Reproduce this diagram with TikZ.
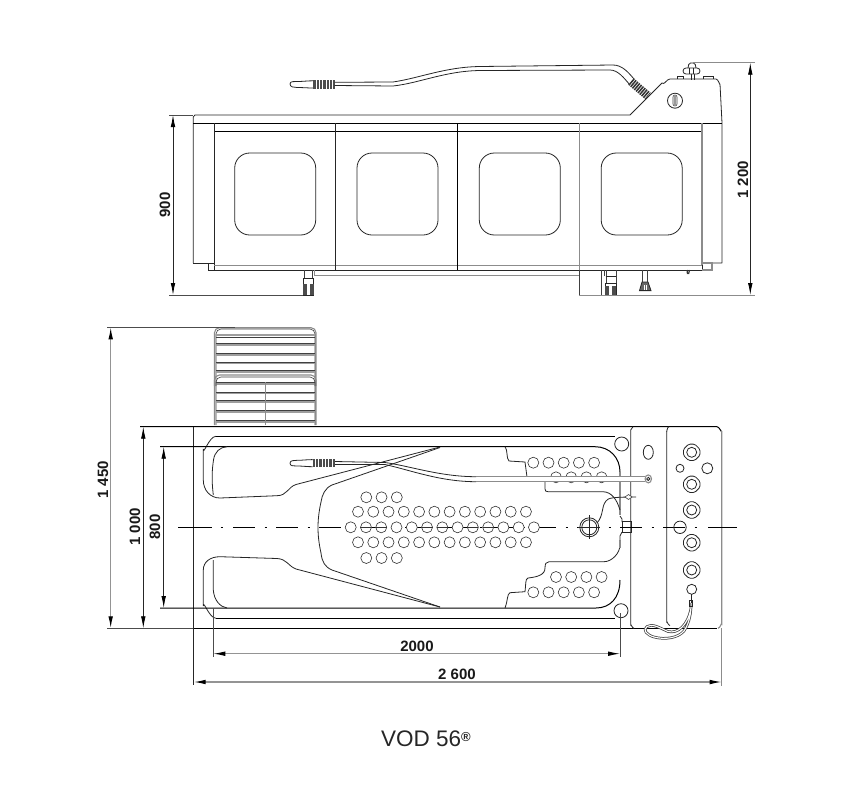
\documentclass[tikz,border=0pt]{standalone}
\usepackage{fontspec}
\setmainfont{Liberation Sans}
\usetikzlibrary{arrows.meta}
\tikzset{
  x=1pt,y=-1pt,
  ln/.style={line width=0.8pt,black!85},
  thin ln/.style={line width=0.6pt,black!75},
  gr/.style={line width=1.1pt,black!45},
  dimblack/.style={line width=0.8pt,black!85,{Latex[length=12pt,width=4.6pt,black]}-{Latex[length=12pt,width=4.6pt,black]}},
  dimgray/.style={line width=1.2pt,black!42,{Latex[length=12pt,width=4.6pt,black]}-{Latex[length=12pt,width=4.6pt,black]}},
  ext/.style={line width=0.7pt,black!70},
  lab/.style={font=\fontsize{15}{16}\selectfont\bfseries,inner sep=0pt,black!90},
  hole/.style={line width=0.6pt,black!80},
}
\begin{document}
\begin{tikzpicture}
\useasboundingbox (0,0) rectangle (852,785);
\fill[white] (0,0) rectangle (852,785);

% ===== ELEVATION =====
% body
\draw[ln,line join=round] (193.3,263) -- (193.3,117) to[out=-90,in=180] (195,115) -- (630,115) -- (662,83) to[out=-45,in=180] (670,79) -- (716,79) to[out=0,in=-90] (720,84) -- (722,123) -- (722,263) -- (702,263);
\draw[ln] (193.3,263) -- (214,263);
\draw[line width=1pt,black] (193.3,123.3) -- (722,123.3);
\draw[line width=1pt,black] (214,131.5) -- (702,131.5);
\draw[ln] (214,123.3) -- (214,270) -- (702,270) -- (702,123.3);
\draw[gr,line width=.9pt] (214,265.7) -- (702,265.7);
\draw[ln] (335.7,123.3) -- (335.7,270);
\draw[line width=1pt,black] (457.3,123.3) -- (457.3,270);
\draw[gr] (579.3,123.3) -- (579.3,270);
\draw[gr] (702,123.3) -- (702,265);
\draw[gr] (702,263) -- (712,263) -- (712,270) -- (702,270);
\draw[ln] (208,263) -- (208,270) -- (214,270);
\draw[gr,line width=.9pt] (314,270) -- (314,275) -- (579,275);
% windows
\foreach \wx in {234.7,357,479.3,601.2}
  \draw[ln,rounded corners=15pt] (\wx,153) rectangle ++(81,82);
% foot 1
\draw[thin ln] (304,270) -- (304,278) -- (312.5,278) -- (312.5,270);
\draw[ln,fill=white] (303,278) rectangle (313.5,295);
\fill[black!70] (303,284) rectangle (307,295);
\fill[black!70] (309.5,284) rectangle (313.5,295);
% box
\draw[thin ln] (579,270) -- (579,295) (601.7,270) -- (601.7,295);
% foot 2
\draw[thin ln] (604,270) -- (604,276);
\draw[thin ln] (606,270) -- (606,283) -- (616,283) -- (616,270);
\draw[ln] (605.5,276) -- (616,276);
\draw[ln] (605,283) rectangle (616,295);
\fill[black!70] (605,286) rectangle (609,295);
\fill[black!70] (612,286) rectangle (616,295);
% foot 3
\draw[thin ln] (642,270) -- (642,282) (647.5,270) -- (647.5,282);
\draw[ln,fill=black!60] (642,282) -- (648,282) -- (651,290.6) -- (639.5,290.6) -- cycle;
\draw[white,line width=.5pt] (644,285)--(644,290) (646,285)--(646,290);
% small pin
\draw[line width=1.2pt,black!80] (687,270) -- (687.5,274) (689.5,270) -- (688.5,274);
% head knob
\draw[ln] (677,79) -- (677,76.5) -- (683,76.5) -- (683,79);
\draw[ln] (703,79) -- (703,76.5) -- (713,76.5) -- (713,79);
\draw[ln] (691,74) -- (691,80) (694,74) -- (694,80);
\draw[ln,rounded corners=1.5pt] (688,68) -- (689,63) -- (695,63) -- (696,68);
\draw[ln,fill=white,rounded corners=3pt] (683,68) rectangle (700,74);
\draw[ln] (689.5,68) -- (689.5,74) (693.5,68) -- (693.5,74);
\draw[ln] (675,100.7) circle (7.5);
\draw[thin ln,rounded corners=2pt] (673,95) rectangle (677,106);
\fill[black!40] (674.3,96) rectangle (675.7,105);
% hose elevation
\draw[ln,fill=white] (313.3,80.8) to[out=180,in=0] (297,81.5) to[out=180,in=90] (290,84) to[out=-90,in=180] (297,87.5) to[out=0,in=180] (313.3,88);
\fill[black!70] (313.3,80.3) rectangle (334.5,88.7);
\foreach \gx in {316,319.3,322.6,325.9,329.2,332.5}
  \draw[white,line width=.7pt] (\gx,80.3) -- (\gx,88.7);
\draw[ln] (334.5,82.3) -- (393,82) .. controls (420,78) and (445,67) .. (480,66.5) -- (613,65) .. controls (622,65) and (628,72) .. (634,79);
\draw[ln] (334.5,85.5) -- (393,86) .. controls (420,83) and (445,71) .. (480,70.5) -- (610,70) .. controls (618,70) and (624,78) .. (630,85);
% spring
\draw[black!80,line width=8.5pt,dash pattern=on 1.5pt off 0.9pt] (631,81.5) -- (648,96);

% ===== PLAN =====
% radiator
\draw[gr,rounded corners=5pt] (214.5,425) -- (214.5,327.7) -- (316,327.7) -- (316,425);
\draw[thin ln,rounded corners=5pt] (216,425) -- (216,329) -- (315,329) -- (315,425);
\foreach \ry in {335,345,355,363.7,372,384,393.5,402,412,422}
  \draw[gr,black!38] (216,\ry) -- (315,\ry);
\foreach \ry in {337,343.7,353.7,362,370.7,382.5,392,400.5,410.5,420.5}
  \draw[thin ln] (216,\ry) -- (315,\ry);
\draw[gr,rounded corners=5pt] (214.5,386) -- (214.5,375) -- (316,375) -- (316,386);
\draw[thin ln,rounded corners=5pt] (216,386) -- (216,377) -- (315,377) -- (315,386);
\draw[black!45,line width=.5pt] (265.5,382) -- (265.5,425);

% outer
\draw[line width=1pt,black] (140,426.7) -- (717,426.7) to[out=0,in=-90] (721.7,431);
\draw[line width=1pt,black] (193.7,628.3) -- (717,628.3);
\draw[ln] (193.7,426.7) -- (193.7,685);
\draw[gr] (721.7,431) -- (721.7,624) to[out=90,in=0] (718,628.3);
\draw[ln] (630.7,430) to[out=90,in=-90] (633,426.7);
\draw[ln] (630.7,430) -- (630.7,625) to[out=90,in=180] (634,628.3);
\draw[ln] (666.7,431) to[out=-90,in=180] (669,426.7);
\draw[ln] (666.7,431) -- (666.7,622) to[out=90,in=180] (670,625.5);

% rim lines
\draw[line width=.9pt,black] (216,436.3) -- (615,436.3);
\draw[line width=.9pt,black] (216,618.3) -- (615,618.3);
\draw[ln] (216,436.3) to[out=180,in=-90] (203.3,449) -- (203.3,480) .. controls (203.3,490) and (210,498) .. (220,498) -- (277,495.7) .. controls (287,495.7) and (288,487) .. (296,484.5) -- (440,447);
\draw[ln] (216,618.3) to[out=180,in=90] (203.3,606) -- (203.3,570) .. controls (203.3,562) and (210,556.7) .. (220,556.7) -- (277,558.5) .. controls (287,559) and (288,566) .. (296,569) -- (440,607);
% inner
\draw[line width=1pt,black] (160,446.7) -- (595,446.7) .. controls (610,446.7) and (620,458) .. (620,472);
\draw[gr] (620,472) -- (620,515);
\draw[line width=1pt,black] (160,608) -- (596,608) .. controls (610,608) and (620,598) .. (620,580);
\draw[ln] (213.3,495) .. controls (211.5,480) and (212,470) .. (213.5,460) .. controls (214.5,452) and (220,447) .. (227,446.7);
\draw[ln] (213.3,560) -- (213.3,590) .. controls (214,600) and (220,607) .. (227,608);
% central body
\draw[ln] (440,447.5) -- (332,485) .. controls (325,488) and (322,495) .. (321,502) .. controls (317,520) and (317,535) .. (321,553) .. controls (322,562) and (325,567) .. (332,570) -- (440,607);
% top lobe step
\draw[ln] (505,446.7) .. controls (508,450) and (506,458) .. (509,461) -- (525,462) -- (527,477);
\draw[ln] (545,482) -- (545,489) .. controls (545,491) and (546,491.7) .. (548,491.7) -- (603,491.7) .. controls (612,492) and (617,500) .. (620,510);
% bottom lobe step
\draw[ln] (505,608) .. controls (508,600) and (507,594) .. (510,592.7) -- (525,591.7) .. controls (526,585) and (525,579) .. (528,578) .. controls (537,577) and (545,575) .. (545,568) .. controls (545,564) and (546,561.7) .. (549,561.7) -- (604,561.7) .. controls (612,561.7) and (620,553) .. (620,545);
\draw[gr] (620,540) -- (620,548);
\draw[ln] (620,516) -- (622,519) -- (622,522);
\draw[ln] (622,532) -- (620,536) -- (620,540);
\draw[ln] (622,521.5) rectangle (631,532.5);

% centre line
\draw[line width=.8pt,black,dash pattern=on 22pt off 9.5pt on 2pt off 9.5pt] (233,527.3) -- (700,527.3);
\draw[line width=.8pt,black] (178,527.3) -- (212,527.3) (220.5,527.3) -- (222.5,527.3);
\draw[line width=.8pt,black] (708,527.3) -- (737,527.3);

% perforations
\foreach \cy in {497.3,558}
  \foreach \i in {0,1,2}
    \draw[hole] (366.3+\i*15.25,\cy) circle (5.5);
\foreach \cy in {511.7,542.3}
  \foreach \i in {0,...,11}
    \draw[hole] (358+\i*15.27,\cy) circle (5.5);
\foreach \i in {0,...,12}
  \draw[hole,fill=white] (350.7+\i*15.27,527.3) circle (5.5);
\foreach \i in {1,2,5,6,8,9}
  \draw[hole] (350.7+\i*15.27-5.5,527.3) -- ++(11,0);
\foreach \cy in {462.7,592.3}
  \foreach \i in {0,...,4}
    \draw[hole] (533.3+\i*15.2,\cy) circle (5.5);
\foreach \cy in {477.3,577}
  \foreach \i in {0,...,3}
    \draw[hole] (556+\i*15.2,\cy) circle (5.5);

% corner circles
\draw[ln,fill=white] (621.7,444) circle (7);
\draw[ln] (621,610.7) circle (7);
\draw[ln] (648.3,452.3) ellipse (5 and 7);

% hose plan
\fill[white] (475,476.7) rectangle (648,481.7);
\draw[ln,fill=white] (312.7,459.6) to[out=180,in=0] (297,460.3) to[out=180,in=90] (290,463.3) to[out=-90,in=180] (297,466) to[out=0,in=180] (312.7,466.7);
\fill[black!70] (312.7,459) rectangle (335,467.2);
\foreach \gx in {315.5,318.8,322.1,325.4,328.7,332}
  \draw[white,line width=.7pt] (\gx,459) -- (\gx,467.2);
\draw[ln] (335,461.5) -- (385,462.5) .. controls (410,466) and (440,476.7) .. (476,476.7);
\draw[ln] (335,464.5) -- (385,464.5) .. controls (410,470) and (440,481.7) .. (476,481.7);
\draw[gr] (476,476.7) -- (645,476.7);
\draw[gr] (476,481.7) -- (645,481.7);
\draw[gr,fill=white] (648.3,478.9) ellipse (3.2 and 4);
\draw[ln] (648.3,478.9) circle (1.6);

% drain, cable
\draw[ln,fill=white] (589.3,527.3) circle (9.5);
\draw[ln] (589.3,527.3) circle (7.5);
\draw[ln] (589.3,515) -- (589.3,538.5);
\draw[ln] (578,527.3) -- (600,527.3);
\draw[ln] (597,523) .. controls (604,515) and (601,507) .. (606,501) .. controls (608,498) and (612,497) .. (636,497);
\draw[thin ln,fill=white] (625,497) -- (628.5,494.5) -- (632,497) -- (628.5,499.5) -- cycle;

% panel fittings
\foreach \ny in {452.3,484.3,510,542.7,570}{
  \draw[ln,rounded corners=1.5pt,fill=white] (688.7,\ny-8.2) -- (694.7,\ny-8.2) -- (700,\ny-3) -- (700,\ny+3) -- (694.7,\ny+8.2) -- (688.7,\ny+8.2) -- (683.4,\ny+3) -- (683.4,\ny-3) -- cycle;
  \draw[ln] (691.7,\ny) circle (5);
}
\draw[ln] (680,468.3) circle (4);
\draw[ln] (707.3,468.3) circle (5.5);
\draw[ln] (680,527.3) circle (6.2);
\draw[ln] (691.7,589.3) circle (5);
% hand shower cord
\draw[black!75,line width=2.6pt,line join=round] (691.2,603) .. controls (691,612) and (690,622) .. (684,631) .. controls (678,638) and (665,640) .. (654,637) .. controls (647,635) and (642,630) .. (647,626.5) .. controls (652,623) and (660,628) .. (668,631.5) .. controls (678,634) and (688,625) .. (691,608);
\draw[white,line width=1.1pt,line join=round] (691.2,603) .. controls (691,612) and (690,622) .. (684,631) .. controls (678,638) and (665,640) .. (654,637) .. controls (647,635) and (642,630) .. (647,626.5) .. controls (652,623) and (660,628) .. (668,631.5) .. controls (678,634) and (688,625) .. (691,608);
\draw[ln] (691,594.3) -- (691,603);
\draw[ln] (689.5,600) rectangle (692.5,606);

% ===== DIMENSIONS =====
\draw[ext] (169,115) -- (193,115);
\draw[ext] (169,295) -- (303,295);
\draw[dimblack] (173,115) -- (173,295);
\node[lab,rotate=90] (d900) at (165,205) {900};
\draw[gr,line width=.9pt] (693,62.7) -- (755,62.7);
\draw[gr,line width=.9pt] (579,295) -- (755,295);
\draw[dimblack] (750.3,62.7) -- (750.3,295);
\node[lab,rotate=90] (d1200) at (743,180) {1 200};

\draw[ext] (107,327.3) -- (235,327.3);
\draw[ext] (107,628.3) -- (193,628.3);
\draw[dimgray] (110.7,327.3) -- (110.7,628.3);
\node[lab,rotate=90] (d1450) at (103,480) {1 450};
\draw[dimblack] (143.3,426.7) -- (143.3,628.3);
\node[lab,rotate=90] (d1000) at (135,527) {1 000};
\draw[dimblack] (163.7,446.7) -- (163.7,608);
\node[lab,rotate=90] (d800) at (155,527) {800};

\draw[ext] (620,613) -- (620,657);
\draw[ext] (213.3,608) -- (213.3,657);
\draw[dimgray,line width=.9pt] (213.3,653.7) -- (620,653.7);
\node[lab] (d2000) at (417,646) {2000};
\draw[gr] (721.7,628) -- (721.7,686);
\draw[dimgray] (193.7,682) -- (721.7,682);
\node[lab] (d2600) at (457,674) {2 600};

\node[font=\fontsize{22.5}{24}\selectfont,inner sep=0pt,anchor=west,black!85] (title) at (381,738.5) {VOD 56\raisebox{5pt}{\fontsize{13}{14}\selectfont\bfseries ®}};
\end{tikzpicture}
\end{document}
